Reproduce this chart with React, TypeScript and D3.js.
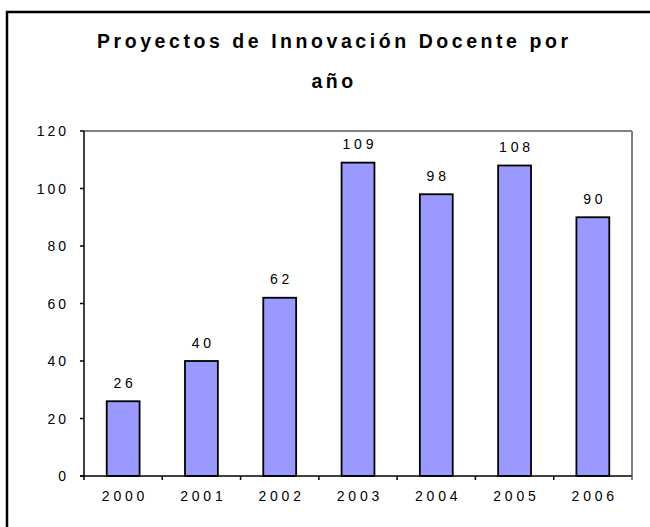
import React from "react";
import * as d3 from "d3";

const years = ["2000", "2001", "2002", "2003", "2004", "2005", "2006"];
const values = [26, 40, 62, 109, 98, 108, 90];
const yTicks = [0, 20, 40, 60, 80, 100, 120];
const titleLine1 = "Proyectos de Innovación Docente por";
const titleLine2 = "año";

const W = 650;
const H = 527;
const plot = { left: 84, right: 632, top: 131, bottom: 476 };
const FONT = "Arial, 'Liberation Sans', sans-serif";

export default function App() {
  const x = d3
    .scaleBand<string>()
    .domain(years)
    .range([plot.left, plot.right])
    .paddingInner(0.58)
    .paddingOuter(0.29);
  const y = d3.scaleLinear().domain([0, 120]).range([plot.bottom, plot.top]);
  const step = x.step();
  const boundaries = d3.range(years.length + 1).map((i) => plot.left + i * step);

  return (
    <svg
      width={W}
      height={H}
      style={{ position: "absolute", left: 0, top: 0, background: "#fff" }}
    >
      <rect x={0} y={0} width={W} height={H} fill="#fff" />
      <rect x={7} y={12} width={700} height={600} fill="none" stroke="#000" strokeWidth={2.5} />

      <text
        x={97}
        y={48}
        fontFamily={FONT}
        fontWeight="bold"
        fontSize={19.5}
        textLength={471}
        lengthAdjust="spacing"
        fill="#000"
      >
        {titleLine1}
      </text>
      <text
        x={334}
        y={88}
        fontFamily={FONT}
        fontWeight="bold"
        fontSize={19.5}
        letterSpacing={3.5}
        textAnchor="middle"
        fill="#000"
      >
        {titleLine2}
      </text>

      {/* plot frame (gray top/right) */}
      <line x1={plot.left} x2={plot.right} y1={plot.top} y2={plot.top} stroke="#808080" strokeWidth={2} />
      <line x1={plot.right} x2={plot.right} y1={plot.top} y2={plot.bottom + 4} stroke="#808080" strokeWidth={2} />

      {/* bars */}
      {values.map((v, i) => (
        <rect
          key={years[i]}
          x={x(years[i])}
          y={y(v)}
          width={x.bandwidth()}
          height={y(0) - y(v)}
          fill="#9999FF"
          stroke="#000"
          strokeWidth={1.8}
        />
      ))}

      {/* value labels */}
      {values.map((v, i) => (
        <text
          key={"l" + years[i]}
          x={(x(years[i]) as number) + x.bandwidth() / 2 + 1.9}
          y={y(v) - 13.4}
          fontFamily={FONT}
          fontSize={14}
          letterSpacing={3.8}
          textAnchor="middle"
          fill="#000"
        >
          {v}
        </text>
      ))}

      {/* y axis */}
      <line x1={plot.left} x2={plot.left} y1={plot.top} y2={plot.bottom} stroke="#000" strokeWidth={1.5} />
      {yTicks.map((t) => (
        <g key={"y" + t}>
          <line x1={plot.left - 4} x2={plot.left} y1={y(t)} y2={y(t)} stroke="#000" strokeWidth={1.5} />
          <text
            x={69}
            y={y(t) + 5}
            fontFamily={FONT}
            fontSize={14}
            letterSpacing={3}
            textAnchor="end"
            fill="#000"
          >
            {t}
          </text>
        </g>
      ))}

      {/* x axis */}
      <line x1={plot.left - 4} x2={plot.right} y1={plot.bottom} y2={plot.bottom} stroke="#000" strokeWidth={1.5} />
      {boundaries.map((bx, i) => (
        <line
          key={"xt" + i}
          x1={bx}
          x2={bx}
          y1={plot.bottom}
          y2={plot.bottom + 4}
          stroke={i === boundaries.length - 1 ? "#808080" : "#000"}
          strokeWidth={1.5}
        />
      ))}
      {years.map((yr) => (
        <text
          key={"xl" + yr}
          x={(x(yr) as number) + x.bandwidth() / 2 + 1.9}
          y={501}
          fontFamily={FONT}
          fontSize={14}
          letterSpacing={3.8}
          textAnchor="middle"
          fill="#000"
        >
          {yr}
        </text>
      ))}
    </svg>
  );
}
